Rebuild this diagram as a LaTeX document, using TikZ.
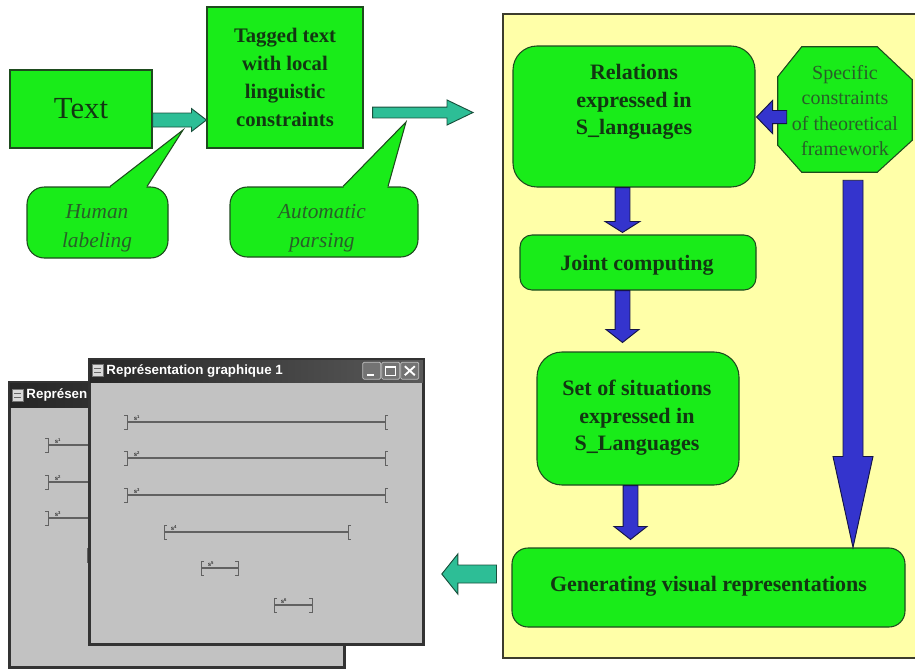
\documentclass[tikz,border=0pt]{standalone}
\usepackage{fontspec}
\setmainfont{Liberation Serif}
\newfontfamily\winsans{Liberation Sans}
\usetikzlibrary{calc}
\definecolor{gfill}{RGB}{25,236,25}
\definecolor{gline}{RGB}{30,75,30}
\definecolor{gtext}{RGB}{18,55,18}
\definecolor{gitext}{RGB}{40,95,40}
\definecolor{tealfill}{RGB}{45,190,150}
\definecolor{tealline}{RGB}{25,80,60}
\definecolor{bluefill}{RGB}{52,52,205}
\definecolor{blueline}{RGB}{20,20,70}
\definecolor{panelyellow}{RGB}{255,255,168}
\definecolor{panelline}{RGB}{60,60,45}
\definecolor{wingrey}{RGB}{194,194,194}
% block arrow: #1 style, #2 from, #3 to, #4 body half width, #5 head half width, #6 head length
\newcommand\blockarrow[6]{%
  \coordinate (bah) at ($(#3)!#6!(#2)$);
  \draw[#1] ($(#2)!#4!90:(#3)$) -- ($(bah)!#4!90:(#3)$) -- ($(bah)!#5!90:(#3)$)
    -- (#3) -- ($(bah)!#5!-90:(#3)$) -- ($(bah)!#4!-90:(#3)$) -- ($(#2)!#4!-90:(#3)$) -- cycle;
}
% interval: #1 x1, #2 x2, #3 y, #4 left tick, #5 right tick, #6 label, #7 name
\newcommand\ivl[7]{%
  \draw[ivline] (#1,#3) -- (#2,#3);
  \draw[ivbr] ({#1+(#4)},{#3-7}) -- (#1,{#3-7}) -- (#1,{#3+7}) -- ({#1+(#4)},{#3+7});
  \draw[ivbr] ({#2+(#5)},{#3-7}) -- (#2,{#3-7}) -- (#2,{#3+7}) -- ({#2+(#5)},{#3+7});
  \node[ivlab] (#7) at ({#1+10},{#3-4}) {#6};
}
\begin{document}
\begin{tikzpicture}[x=0.75pt,y=-0.75pt,
  gbox/.style={draw=gline, fill=gfill, line width=0.8pt, inner sep=0pt},
  bubble/.style={gbox, rounded corners=13pt},
  btext/.style={text=gtext, font=\bfseries\fontsize{16.5}{20.6}\selectfont, align=center, inner sep=0pt},
  itext/.style={text=gitext, font=\itshape\fontsize{16}{21.5}\selectfont, align=center, inner sep=0pt},
  otext/.style={text=gitext, font=\fontsize{15}{19}\selectfont, align=center, inner sep=0pt},
  tealarrow/.style={fill=tealfill, draw=tealline, line width=0.7pt},
  bluearrow/.style={fill=bluefill, draw=blueline, line width=0.7pt},
  winframe/.style={draw=black!80, line width=1.2pt, fill=wingrey, inner sep=0pt},
  wintitle/.style={font=\winsans\bfseries\fontsize{10}{12}\selectfont, text=white, inner sep=0pt},
  btn/.style={fill=black!55, draw=black!25, line width=0.6pt, rounded corners=1pt},
  ivline/.style={draw=black!62, line width=0.9pt},
  ivbr/.style={draw=black!62, line width=0.7pt},
  ivlab/.style={font=\winsans\bfseries\fontsize{4.5}{5}\selectfont, text=black!80, inner sep=0pt}
]
\useasboundingbox (0,0) rectangle (915,669);

% ---------- right panel ----------
\node[draw=panelline, fill=panelyellow, line width=0.8pt, inner sep=0pt,
      minimum width=314.25pt, minimum height=483pt] (panel) at (712.5,336) {};

\node[gbox, rounded corners=18pt, minimum width=181.5pt, minimum height=105.75pt] (relations) at (634,116.5) {};
\node[btext] (rellbl) at (634,102) {Relations\\expressed in\\S\_languages};

\node[inner sep=0pt, minimum width=100.5pt, minimum height=93.75pt] (oct) at (845,109.5) {};
\draw[gbox] ($(oct.north west)+(24,0)$) -- ($(oct.north east)+(-35,0)$) -- ($(oct.north east)+(0,33)$)
  -- ($(oct.south east)+(0,-32)$) -- ($(oct.south east)+(-35,0)$) -- ($(oct.south west)+(24,0)$)
  -- ($(oct.south west)+(0,-27)$) -- ($(oct.north west)+(0,30)$) -- cycle;
\node[otext] (octlbl) at (845,110.5) {Specific\\constraints\\of theoretical\\framework};

\node[gbox, rounded corners=9pt, minimum width=177pt, minimum height=41.25pt] (joint) at (638,262.5) {};
\node[btext] (jointlbl) at (637,265.5) {Joint computing};

\node[gbox, rounded corners=18.75pt, minimum width=151.5pt, minimum height=99.75pt] (set) at (638,418.5) {};
\node[btext] (setlbl) at (637,418) {Set of situations\\expressed in\\S\_Languages};

\node[gbox, rounded corners=12pt, minimum width=294.75pt, minimum height=59.25pt] (gen) at (708.5,587.5) {};
\node[btext] (genlbl) at (708.5,586) {Generating visual representations};

% blue arrows
\coordinate (b1s) at ($(oct.west)+(9,7.5)$);
\coordinate (b1e) at ($(relations.east)+(1,0.5)$);
\blockarrow{bluearrow}{b1s}{b1e}{4.9pt}{12.4pt}{12pt}
\coordinate (b2s) at ($(relations.south)+(-11.5,0)$);
\coordinate (b2e) at ($(joint.north)+(-15.5,-2)$);
\blockarrow{bluearrow}{b2s}{b2e}{5.6pt}{13.1pt}{8.25pt}
\coordinate (b3s) at ($(joint.south)+(-15.5,0)$);
\coordinate (b3e) at ($(set.north)+(-15.5,-9)$);
\blockarrow{bluearrow}{b3s}{b3e}{5.6pt}{12.4pt}{9.75pt}
\coordinate (b4s) at ($(set.south)+(-7.5,0)$);
\coordinate (b4e) at ($(gen.north)+(-78,-8)$);
\blockarrow{bluearrow}{b4s}{b4e}{5.6pt}{12.4pt}{9.75pt}
\coordinate (b5s) at ($(oct.south)+(8,8)$);
\coordinate (b5e) at ($(gen.north)+(144.5,0)$);
\blockarrow{bluearrow}{b5s}{b5e}{7.5pt}{15pt}{68.25pt}

% ---------- top left ----------
\node[gbox, minimum width=106.5pt, minimum height=58.5pt, text=gtext,
      font=\fontsize{23}{27}\selectfont] (textbox) at (81,109) {Text};
\node[gbox, minimum width=117pt, minimum height=105.75pt, text=gtext, align=center,
      font=\bfseries\fontsize{15.5}{21}\selectfont] (tagged) at (285,77.5)
      {Tagged text\\with local\\linguistic\\constraints};

\coordinate (t1s) at ($(textbox.east)+(0,11)$);
\coordinate (t1e) at ($(tagged.west)+(0,42.5)$);
\blockarrow{tealarrow}{t1s}{t1e}{5.25pt}{8.6pt}{11.25pt}
\coordinate (t2s) at ($(tagged.east)+(9,35)$);
\coordinate (t2e) at (473,112.5);
\blockarrow{tealarrow}{t2s}{t2e}{4.1pt}{9.4pt}{19.5pt}

% callouts
\node[bubble, minimum width=105.75pt, minimum height=53.25pt] (hbub) at (97.5,222.5) {};
\coordinate (htip) at (183,130);
\fill[gfill] ($(hbub.north)+(13.5,1.5)$) -- ($(hbub.north)+(12.5,0)$) -- (htip)
  -- ($(hbub.north)+(49.5,0)$) -- ($(hbub.north)+(48.5,1.5)$) -- cycle;
\draw[gline, line width=0.8pt] ($(hbub.north)+(12.5,0)$) -- (htip) -- ($(hbub.north)+(49.5,0)$);
\node[itext] (hlbl) at (97,228) {Human\\labeling};

\node[bubble, minimum width=141pt, minimum height=52.5pt] (abub) at (324,222) {};
\coordinate (atip) at (406,122);
\fill[gfill] ($(abub.north)+(20,1.5)$) -- ($(abub.north)+(19,0)$) -- (atip)
  -- ($(abub.north)+(64,0)$) -- ($(abub.north)+(63,1.5)$) -- cycle;
\draw[gline, line width=0.8pt] ($(abub.north)+(19,0)$) -- (atip) -- ($(abub.north)+(64,0)$);
\node[itext] (albl) at (322,228) {Automatic\\parsing};

% ---------- windows ----------
\node[winframe, minimum width=250.5pt, minimum height=213pt] (back) at (177,525) {};
\shade[left color=black!85, right color=black!70] (back.north west) rectangle ($(back.north east)+(0,25)$);
\draw[black!80, line width=1.2pt] (back.north west) rectangle (back.south east);
\draw[fill=black!15, draw=black!55, line width=0.4pt] ($(back.north west)+(3,7)$) rectangle ($(back.north west)+(14,19)$);
\draw[black!60, line width=0.6pt] ($(back.north west)+(5,11)$) -- ($(back.north west)+(12,11)$)
  ($(back.north west)+(5,15)$) -- ($(back.north west)+(12,15)$);
\node[wintitle, anchor=west] (backtitle) at ($(back.north west)+(17,13)$) {Représen};
\ivl{48}{300}{445}{-3}{3}{s\textsuperscript{1}}{bk1}
\ivl{48}{300}{482}{-3}{3}{s\textsuperscript{2}}{bk2}
\ivl{48}{300}{518}{-3}{3}{s\textsuperscript{3}}{bk3}
\ivl{87}{250}{555}{3}{3}{}{bk4}

\node[winframe, minimum width=249.75pt, minimum height=213pt] (front) at (256.5,502) {};
\shade[left color=black!85, right color=black!65] (front.north west) rectangle ($(front.north east)+(0,23)$);
\draw[black!80, line width=1.2pt] (front.north west) rectangle (front.south east);
\draw[fill=black!15, draw=black!55, line width=0.4pt] ($(front.north west)+(3,5)$) rectangle ($(front.north west)+(14,17)$);
\draw[black!60, line width=0.6pt] ($(front.north west)+(5,9)$) -- ($(front.north west)+(12,9)$)
  ($(front.north west)+(5,13)$) -- ($(front.north west)+(12,13)$);
\node[wintitle, anchor=west] (fronttitle) at ($(front.north west)+(17,12)$) {Représentation graphique 1};
\draw[btn] ($(front.north east)+(-61,3)$) rectangle ($(front.north east)+(-43,20)$);
\draw[btn] ($(front.north east)+(-42,3)$) rectangle ($(front.north east)+(-24,20)$);
\draw[btn] ($(front.north east)+(-23,3)$) rectangle ($(front.north east)+(-5,20)$);
\draw[white, line width=1.3pt] ($(front.north east)+(-57,16)$) -- ($(front.north east)+(-50,16)$);
\draw[white, line width=0.8pt] ($(front.north east)+(-38,7)$) rectangle ($(front.north east)+(-28,16)$);
\draw[white, line width=1.5pt] ($(front.north east)+(-38,7.5)$) -- ($(front.north east)+(-28,7.5)$);
\draw[white, line width=1.4pt] ($(front.north east)+(-19,7)$) -- ($(front.north east)+(-9,16)$)
  ($(front.north east)+(-19,16)$) -- ($(front.north east)+(-9,7)$);

\ivl{127}{385}{422}{-3}{3}{s\textsuperscript{1}}{fr1}
\ivl{127}{385}{458}{-3}{3}{s\textsuperscript{2}}{fr2}
\ivl{127}{385}{495}{-3}{3}{s\textsuperscript{3}}{fr3}
\ivl{164}{348}{532}{3}{3}{s\textsuperscript{4}}{fr4}
\ivl{201}{238}{568}{3}{-3}{s\textsuperscript{5}}{fr5}
\ivl{274}{312}{605}{3}{-3}{s\textsuperscript{6}}{fr6}

% teal arrow to windows
\coordinate (t3s) at ($(panel.west)+(-6,238)$);
\coordinate (t3e) at ($(front.east)+(18,72)$);
\blockarrow{tealarrow}{t3s}{t3e}{6.75pt}{15pt}{12pt}
\end{tikzpicture}
\end{document}
